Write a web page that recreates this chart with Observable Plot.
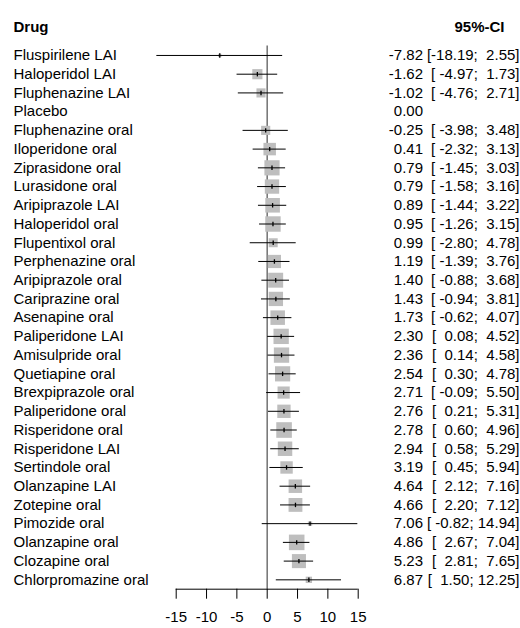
<!DOCTYPE html>
<html>
<head>
<meta charset="utf-8">
<script src="https://cdn.jsdelivr.net/npm/d3@7"></script>
<script src="https://cdn.jsdelivr.net/npm/@observablehq/plot@0.6"></script>
<style>
  html, body { margin: 0; padding: 0; background: #fff; }
</style>
</head>
<body>
<div id="chart"></div>
<script>
// Mean difference vs placebo with 95% confidence intervals, one row per treatment
const drugs = [
  "Fluspirilene LAI", "Haloperidol LAI", "Fluphenazine LAI", "Placebo",
  "Fluphenazine oral", "Iloperidone oral", "Ziprasidone oral", "Lurasidone oral",
  "Aripiprazole LAI", "Haloperidol oral", "Flupentixol oral", "Perphenazine oral",
  "Aripiprazole oral", "Cariprazine oral", "Asenapine oral", "Paliperidone LAI",
  "Amisulpride oral", "Quetiapine oral", "Brexpiprazole oral", "Paliperidone oral",
  "Risperidone oral", "Risperidone LAI", "Sertindole oral", "Olanzapine LAI",
  "Zotepine oral", "Pimozide oral", "Olanzapine oral", "Clozapine oral",
  "Chlorpromazine oral"
];
const estimate = [
  -7.82, -1.62, -1.02, 0.00, -0.25, 0.41, 0.79, 0.79, 0.89, 0.95, 0.99, 1.19,
  1.40, 1.43, 1.73, 2.30, 2.36, 2.54, 2.71, 2.76, 2.78, 2.94, 3.19, 4.64,
  4.66, 7.06, 4.86, 5.23, 6.87
];
const lower = [
  -18.19, -4.97, -4.76, null, -3.98, -2.32, -1.45, -1.58, -1.44, -1.26, -2.80, -1.39,
  -0.88, -0.94, -0.62, 0.08, 0.14, 0.30, -0.09, 0.21, 0.60, 0.58, 0.45, 2.12,
  2.20, -0.82, 2.67, 2.81, 1.50
];
const upper = [
  2.55, 1.73, 2.71, null, 3.48, 3.13, 3.03, 3.16, 3.22, 3.15, 4.78, 3.76,
  3.68, 3.81, 4.07, 4.52, 4.58, 4.78, 5.50, 5.31, 4.96, 5.29, 5.94, 7.16,
  7.12, 14.94, 7.04, 7.65, 12.25
];
const xTicks = [-15, -10, -5, 0, 5, 10, 15];

const rows = drugs.map((drug, i) => ({
  drug,
  row: i,
  est: estimate[i],
  lo: lower[i],
  hi: upper[i],
  // precision (inverse CI width) drives the square size
  prec: lower[i] == null ? null : 1 / (upper[i] - lower[i])
}));
const studies = rows.filter(d => d.lo != null);

const fmt = v => v.toFixed(2);
const ciLabel = d => d.lo == null ? "" : `[${fmt(d.lo).padStart(6)}; ${fmt(d.hi).padStart(5)}]`;

const yDomain = [-0.5, drugs.length - 0.5];
const xDomain = [xTicks[0], xTicks[xTicks.length - 1]];

// short vertical stroke marking the point estimate
const tickSymbol = {
  draw(ctx, size) {
    const h = Math.sqrt(size) / 2;
    ctx.moveTo(0, -h);
    ctx.lineTo(0, h);
  }
};

const W = 520, H = 628;
const mLeft = 175.7, mRight = 162.3, mTop = 45.6, mBottom = 39.3;

const chart = Plot.plot({
  width: W,
  height: H,
  marginLeft: mLeft,
  marginRight: mRight,
  marginTop: mTop,
  marginBottom: mBottom,
  style: {
    fontFamily: "'Liberation Sans', Arial, Helvetica, sans-serif",
    fontSize: "15px",
    color: "#000",
    background: "#fff",
    whiteSpace: "pre",
    overflow: "visible"
  },
  x: { domain: xDomain, axis: null },
  y: { type: "linear", domain: yDomain, reverse: true, axis: null },
  r: { type: "linear", domain: [0, 0.25], range: [0, 9.6] },
  marks: [
    // reference line at zero difference
    Plot.ruleX([0], { y1: yDomain[0], y2: yDomain[1], stroke: "#7a7a7a", strokeWidth: 1.6 }),
    // weighted squares
    Plot.dot(studies, { x: "est", y: "row", r: "prec", symbol: "square", fill: "#bebebe", stroke: "none" }),
    // confidence intervals
    Plot.ruleY(studies, { y: "row", x1: "lo", x2: "hi", stroke: "#000", strokeWidth: 1 }),
    // point estimates
    Plot.dot(studies, { x: "est", y: "row", r: 2.5, symbol: tickSymbol, stroke: "#000", fill: "none", strokeWidth: 1.3 }),
    // x axis line, ticks and labels
    Plot.ruleY([yDomain[1]], { x1: xDomain[0], x2: xDomain[1], stroke: "#000", strokeWidth: 1 }),
    Plot.axisX({
      ticks: xTicks,
      tickFormat: d => String(d),
      tickSize: 10,
      tickPadding: 12,
      fontSize: 15,
      label: null,
      anchor: "bottom"
    }),
    // drug column
    Plot.text(rows, {
      y: "row", text: "drug", frameAnchor: "left", textAnchor: "start",
      dx: 13 - mLeft, fill: "#000", fontSize: 15
    }),
    // estimate column
    Plot.text(rows, {
      y: "row", text: d => fmt(d.est), frameAnchor: "right", textAnchor: "end",
      dx: 422.5 - (W - mRight), fill: "#000", fontSize: 15
    }),
    // interval column
    Plot.text(rows, {
      y: "row", text: ciLabel, frameAnchor: "right", textAnchor: "end",
      dx: 519 - (W - mRight), fill: "#000", fontSize: 15
    }),
    // column headers
    Plot.text(["Drug"], {
      frameAnchor: "top-left", textAnchor: "start", dx: 13 - mLeft, dy: 20.5 - mTop,
      fontWeight: "bold", fontSize: 15, fill: "#000"
    }),
    Plot.text(["95%-CI"], {
      frameAnchor: "top-right", textAnchor: "end", dx: 504 - (W - mRight), dy: 20.5 - mTop,
      fontWeight: "bold", fontSize: 15, fill: "#000"
    })
  ]
});

document.getElementById("chart").appendChild(chart);
</script>
</body>
</html>
